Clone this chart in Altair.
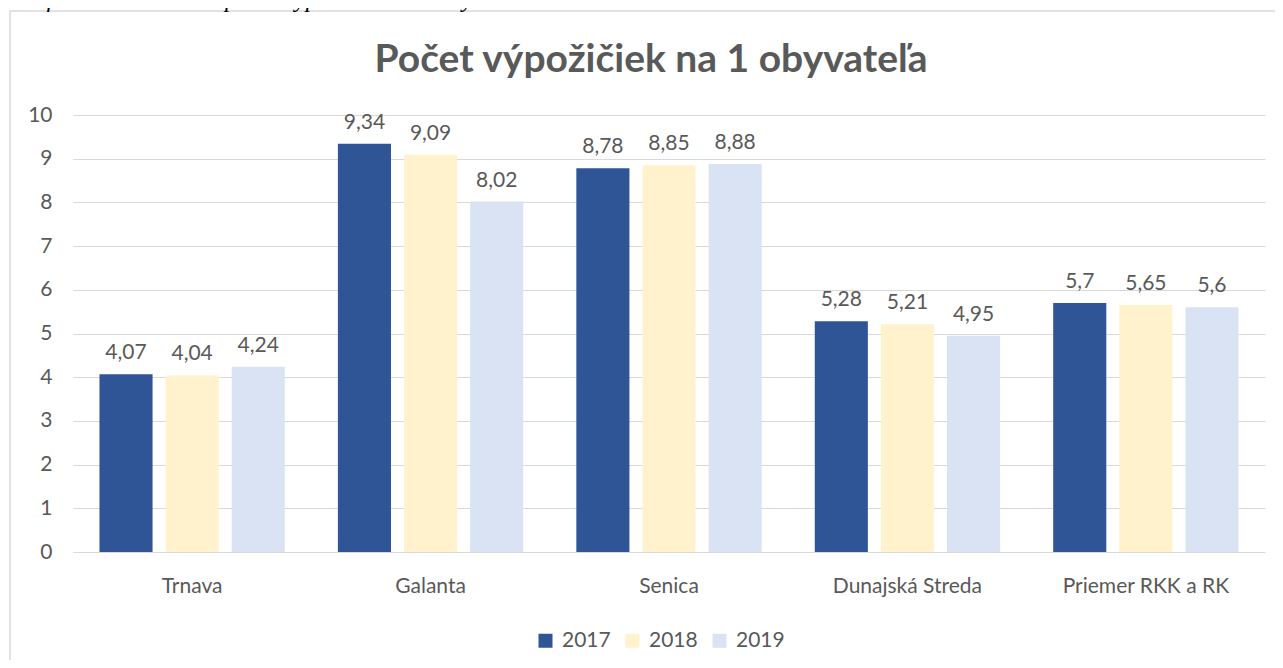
import altair as alt
import pandas as pd

categories = ["Trnava", "Galanta", "Senica", "Dunajská Streda", "Priemer RKK a RK"]
years = ["2017", "2018", "2019"]
v2017 = [4.07, 9.34, 8.78, 5.28, 5.70]
v2018 = [4.04, 9.09, 8.85, 5.21, 5.65]
v2019 = [4.24, 8.02, 8.88, 4.95, 5.60]
colors = ["#2F5597", "#FFF2CC", "#DAE3F3"]
y_ticks = list(range(0, 11))
chart_title = "Počet výpožičiek na 1 obyvateľa"
caption = "Graf č. 4: Porovnanie počtu výpožičiek na 1 obyvateľa v rokoch 2017 – 2019"

rows = []
for yr, vals in zip(years, [v2017, v2018, v2019]):
    for c, v in zip(categories, vals):
        rows.append({"category": c, "year": yr, "value": v,
                     "label": f"{v:g}".replace(".", ",")})
df = pd.DataFrame(rows)

FONT = "Lato"
TXT = "#595959"
W, H = 1192, 437

base = alt.Chart(df).encode(
    x=alt.X("category:N", sort=categories,
            scale=alt.Scale(paddingInner=0.2227, paddingOuter=0.111),
            axis=alt.Axis(title=None, labelAngle=0, ticks=False, domain=False,
                          grid=False, labelFontSize=21, labelColor=TXT,
                          labelFont=FONT, labelPadding=23)),
    xOffset=alt.XOffset("year:N", sort=years,
                        scale=alt.Scale(paddingInner=0.197, paddingOuter=0)),
)

bars = base.mark_bar().encode(
    y=alt.Y("value:Q", scale=alt.Scale(domain=[0, 10]),
            axis=alt.Axis(title=None, values=y_ticks, ticks=False, domain=False,
                          gridColor="#D9D9D9", gridWidth=1, labelFontSize=21,
                          labelColor=TXT, labelFont=FONT, labelPadding=21)),
    color=alt.Color("year:N", sort=years,
                    scale=alt.Scale(domain=years, range=colors),
                    legend=alt.Legend(title=None, orient="none", legendX=462,
                                      legendY=515, direction="horizontal",
                                      symbolType="square", symbolSize=196,
                                      symbolStrokeWidth=0, labelFontSize=21,
                                      labelColor=TXT, labelFont=FONT,
                                      labelOffset=6, columnPadding=11,
                                      padding=0)),
)

labels = base.mark_text(baseline="alphabetic", dy=-15, fontSize=21,
                        color=TXT, font=FONT).encode(
    y=alt.Y("value:Q"), text="label:N")

frame = alt.Chart(pd.DataFrame({"k": [0]})).mark_rect(
    fill=None, stroke="#D9D9D9", strokeWidth=1.5).encode(
    x=alt.value(-63), x2=alt.value(W + 40), y=alt.value(-104), y2=alt.value(H + 200))

title_mark = alt.Chart(pd.DataFrame({"t": [chart_title]})).mark_text(
    align="center", baseline="alphabetic", fontSize=39, fontWeight="bold",
    font=FONT, color=TXT).encode(
    x=alt.value(578), y=alt.value(-43), text="t:N")

caption_mark = alt.Chart(pd.DataFrame({"t": [caption]})).mark_text(
    align="left", baseline="alphabetic", fontSize=24, fontStyle="italic",
    font="Liberation Serif", color="#000000").encode(
    x=alt.value(-65), y=alt.value(-108), text="t:N")

chart = alt.layer(frame, bars, labels, title_mark, caption_mark).properties(
    width=W, height=H,
    padding={"left": 65, "top": 107, "right": 10, "bottom": 108},
    autosize=alt.AutoSizeParams(type="none"),
    background="white",
).configure_view(stroke=None)

chart.save("out.html", embed_options={"renderer": "svg", "actions": False})
